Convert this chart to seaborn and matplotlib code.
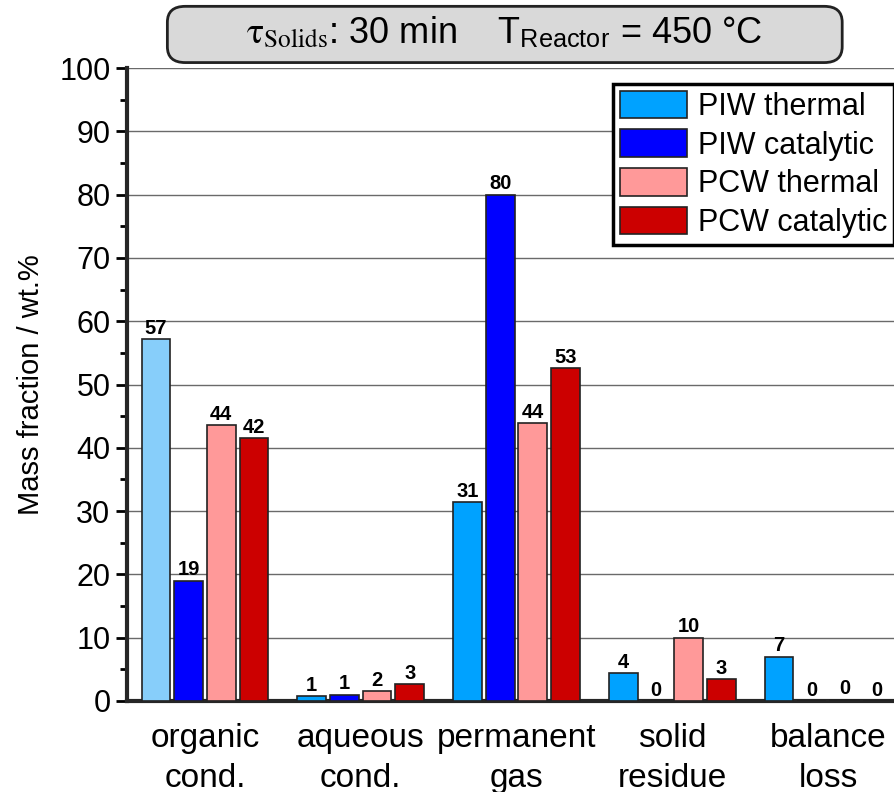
import pandas as pd
import numpy as np
import seaborn as sns
import matplotlib.pyplot as plt
from matplotlib.patches import FancyBboxPatch
from matplotlib.ticker import MultipleLocator

categories = ["organic\ncond.", "aqueous\ncond.", "permanent\ngas", "solid\nresidue", "balance\nloss"]
series = ["PIW thermal", "PIW catalytic", "PCW thermal", "PCW catalytic"]
piw_thermal = [57.2, 0.7, 31.4, 4.4, 7.0]
piw_catalytic = [19.0, 1.0, 80.0, 0.0, 0.0]
pcw_thermal = [43.6, 1.5, 43.9, 10.0, 0.2]
pcw_catalytic = [41.5, 2.6, 52.6, 3.4, 0.0]
colors = ["#00A2FF", "#0000FF", "#FF9999", "#CC0000"]

df = pd.DataFrame({
    "category": categories * 4,
    "series": np.repeat(series, len(categories)),
    "value": piw_thermal + piw_catalytic + pcw_thermal + pcw_catalytic,
})

sns.set_style("ticks")
plt.rcParams['font.family'] = ['Liberation Sans', 'DejaVu Sans']
plt.rcParams['text.color'] = 'black'
plt.rcParams['axes.labelcolor'] = 'black'
plt.rcParams['xtick.color'] = 'black'
plt.rcParams['ytick.color'] = 'black'

fig = plt.figure(figsize=(8.95, 7.92), dpi=100)
ax = fig.add_axes([0.142, 0.115, 0.858, 0.799])

sns.barplot(data=df, x="category", y="value", hue="series", palette=colors,
            width=0.84, gap=0.12, edgecolor="#222222", linewidth=1.2,
            saturation=1, ax=ax, zorder=3)

# first bar is drawn in a lighter blue in the original
ax.containers[0][0].set_facecolor("#87CEFA")

for cont in ax.containers:
    ax.bar_label(cont, labels=[f"{b.get_height():.0f}" for b in cont],
                 fontsize=14.5, fontweight="bold", padding=1, color="black")

ax.set_ylim(0, 100)
ax.set_xlim(-0.5, 4.43)
ax.yaxis.set_major_locator(MultipleLocator(10))
ax.yaxis.set_minor_locator(MultipleLocator(5))
ax.grid(axis="y", color="#6a6a6a", linewidth=1.0, zorder=0)
ax.set_axisbelow(True)
ax.tick_params(axis="y", which="major", labelsize=22, length=8, width=2, direction="out", pad=4)
ax.tick_params(axis="y", which="minor", length=5, width=2, direction="out")
ax.tick_params(axis="x", length=0, pad=16)
ax.set_xlabel("")
ax.set_ylabel("Mass fraction / wt.%", fontsize=21, labelpad=10)
for lab in ax.get_xticklabels():
    lab.set_fontsize(24)
    lab.set_linespacing(1.35)
for s in ["top", "right"]:
    ax.spines[s].set_visible(False)
ax.spines["left"].set_linewidth(3)
ax.spines["bottom"].set_linewidth(3)

leg = ax.legend(loc="upper right", bbox_to_anchor=(0.9985, 0.975), fontsize=22,
                frameon=True, fancybox=False, edgecolor="black", framealpha=1,
                handlelength=2.2, handleheight=1.0, handletextpad=0.35,
                labelspacing=0.25, borderpad=0.22, borderaxespad=0)
leg.get_frame().set_linewidth(2.5)
leg.set_title(None)

# rounded grey title box
box = FancyBboxPatch((0.192, 0.926), 0.744, 0.061, transform=fig.transFigure,
                     boxstyle="round,pad=0.005,rounding_size=0.02",
                     facecolor="#D9D9D9", edgecolor="#222222", linewidth=2)
fig.patches.append(box)
fig.text(0.564, 0.957,
         r"$\mathrm{\tau}_{\mathrm{Solids}}$: 30 min    T$_{\mathregular{Reactor}}$ = 450 °C",
         ha="center", va="center", fontsize=26, math_fontfamily="stix")

fig.savefig("out.png", dpi=100)
